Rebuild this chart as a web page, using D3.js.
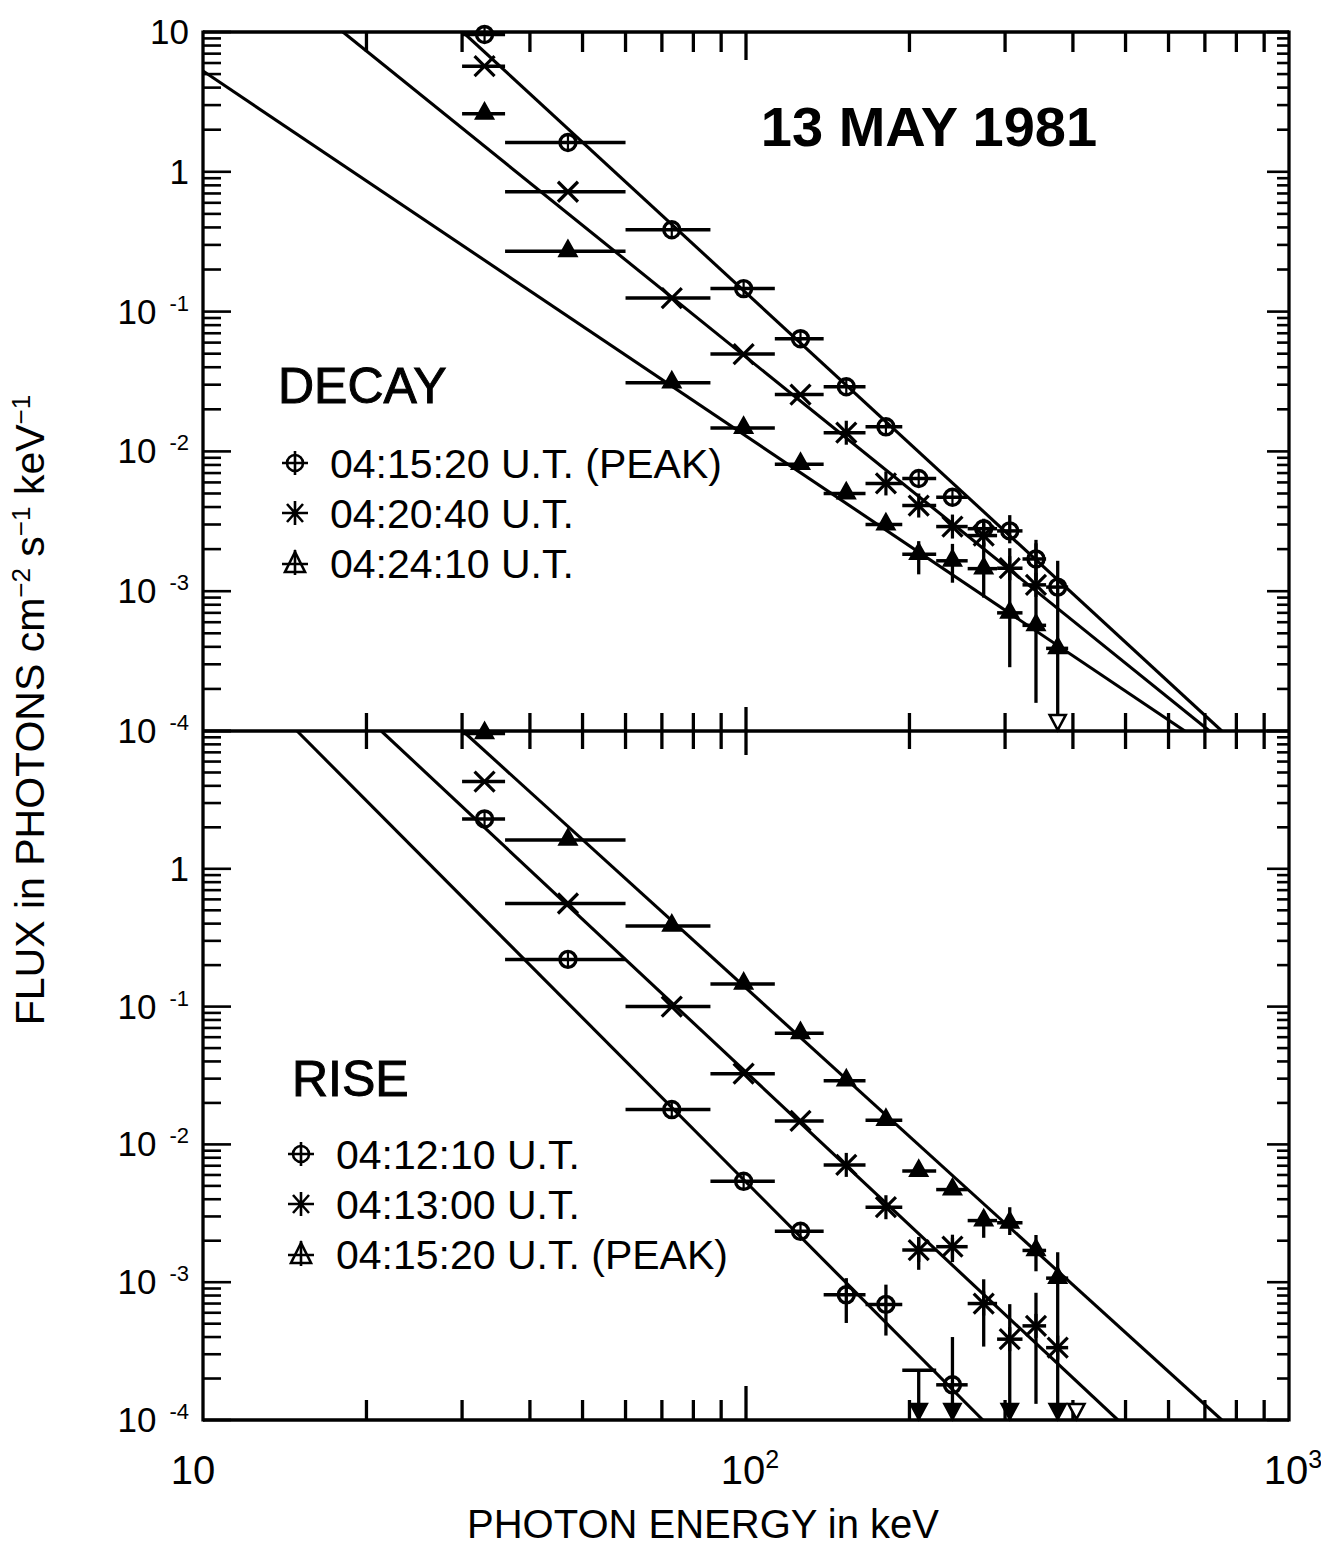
<!DOCTYPE html>
<html><head><meta charset="utf-8">
<script src="https://cdn.jsdelivr.net/npm/d3@7"></script>
<style>
html,body{margin:0;padding:0;background:#fff;}
svg{display:block;}
text{font-family:"Liberation Sans",Arial,Helvetica,sans-serif;fill:#000;}
</style></head><body>
<svg id="chart" width="1321" height="1553"></svg>
<script>
// ---------------- DATA ----------------
// photon energy channels (keV) and their bin edges
const energies = [33, 47, 73, 99, 126, 153, 181, 208, 240, 274, 306, 342, 375];
const binLo    = [30, 36, 60, 86, 113, 139, 166, 194, 224, 256, 290, 323, 357];
const binHi    = [36, 60, 86, 113, 139, 166, 194, 224, 256, 290, 323, 357, 392];

// 04:15:20 U.T. (PEAK) — shown in both panels
const fluxPeak  = [9.6, 1.62, 0.385, 0.146, 0.064, 0.029, 0.015, 0.0064, 0.0047, 0.0028, 0.0027, 0.0017, 0.00107];
const errHiPeak = [null, null, null, null, null, null, null, null, null, 0.0033, 0.0035, 0.0022, 0.00165];
const errLoPeak = [null, null, null, null, null, null, null, null, null, 0.0021, 0.0022, 0.0012, "axis"];

// DECAY 04:20:40 U.T.
const flux2040  = [5.7, 0.72, 0.125, 0.0497, 0.0255, 0.0136, 0.0059, 0.0041, 0.0029, 0.0025, 0.00146, 0.00111];
const errHi2040 = [null, null, null, null, null, null, null, null, null, null, 0.00203, 0.00233];
const errLo2040 = [null, null, null, null, null, null, null, null, null, null, 0.000286, 0.000159];

// DECAY 04:24:10 U.T.
const flux2410  = [2.6, 0.27, 0.031, 0.0147, 0.0081, 0.005, 0.003, 0.00184, 0.00165, 0.00145, 0.0007, 0.00057, 0.00039];
const errHi2410 = [null, null, null, null, null, null, null, 0.00228, 0.00218, 0.00223, null, null, null];
const errLo2410 = [null, null, null, null, null, null, null, 0.00132, 0.00115, 0.0009, null, null, null];

// RISE 04:12:10 U.T.
const flux1210   = [2.3, 0.22, 0.0179, 0.0054, 0.00234, 0.00081, 0.00069, 0.00023, 0.00018];
const errHi1210  = [null, null, null, null, null, 0.00107, 0.00096, null, 0.0004];
const errLo1210  = [null, null, null, null, null, 0.000506, 0.00041, "axis", "axis"];
const limit1210  = [false, false, false, false, false, false, false, true, false];

// RISE 04:13:00 U.T.
const flux1300  = [4.3, 0.56, 0.10, 0.0326, 0.0148, 0.0071, 0.0035, 0.00171, 0.00181, 0.0007, 0.000386, 0.000482, 0.000335];
const errHi1300 = [null, null, null, null, null, null, null, 0.00213, 0.0021, 0.00105, 0.000693, 0.000838, null];
const errLo1300 = [null, null, null, null, null, null, null, 0.00123, 0.0014, 0.000341, "axis", 0.000131, null];

// extra open upper-limit marker in the RISE panel (keV)
const openLimitsRise = [406];

// power-law fit lines: two end points [keV, flux]
const fitPeak   = [[30.1, 10], [752, 1e-4]];
const fit2040   = [[18.1, 10], [714, 1e-4]];
const fit2410   = [[10, 5.26], [643, 1e-4]];
const fit1210   = [[14.9, 10], [273, 1e-4]];
const fit1300   = [[21.3, 10], [484, 1e-4]];

// axis tick labels
const xTickLabels = [{v: 10, base: "10", sup: ""}, {v: 100, base: "10", sup: "2"}, {v: 1000, base: "10", sup: "3"}];
const yTickLabelsTop = [10, 1, 1e-1, 1e-2, 1e-3, 1e-4];
const yTickLabelsBot = [1, 1e-1, 1e-2, 1e-3, 1e-4];

const decayLegend = ["04:15:20 U.T. (PEAK)", "04:20:40 U.T.", "04:24:10 U.T."];
const riseLegend  = ["04:12:10 U.T.", "04:13:00 U.T.", "04:15:20 U.T. (PEAK)"];

// ---------------- LAYOUT ----------------
const X0 = 203, X1 = 1289, Y0 = 32, YM = 731, Y1 = 1420;
const svg = d3.select("#chart");
const x = d3.scaleLog().domain([10, 1000]).range([X0, X1]);
const yTop = d3.scaleLog().domain([1e-4, 10]).range([YM, Y0]);
const yBot = d3.scaleLog().domain([1e-4, 10]).range([Y1, YM]);

const defs = svg.append("defs");
defs.append("clipPath").attr("id", "clipTop").append("rect")
  .attr("x", X0).attr("y", Y0).attr("width", X1 - X0).attr("height", YM - Y0);
defs.append("clipPath").attr("id", "clipBot").append("rect")
  .attr("x", X0).attr("y", YM).attr("width", X1 - X0).attr("height", Y1 - YM);

const SW = 3.3;
const g = svg.append("g").attr("stroke-linecap", "butt");

function seg(x1, y1, x2, y2, w) {
  g.append("line").attr("x1", x1).attr("y1", y1).attr("x2", x2).attr("y2", y2)
    .attr("stroke", "#000").attr("stroke-width", w || SW);
}

// frame
seg(X0, Y0, X1, Y0); seg(X0, YM, X1, YM); seg(X0, Y1, X1, Y1);
seg(X0, Y0 - 1.5, X0, Y1 + 1.5); seg(X1, Y0 - 1.5, X1, Y1 + 1.5);

// x ticks
const xt = x.ticks().filter(t => t > 10 && t < 1000);
const isMajor = t => Math.abs(Math.log10(t) - Math.round(Math.log10(t))) < 1e-9;
xt.forEach(t => {
  const px = x(t), maj = isMajor(t);
  seg(px, Y0, px, Y0 + (maj ? 28 : 20));
  seg(px, YM - (maj ? 24 : 18), px, YM + (maj ? 24 : 18));
  seg(px, Y1, px, Y1 - (maj ? 34 : 20));
});

// y ticks (both panels)
[yTop, yBot].forEach(ys => {
  ys.ticks().forEach(t => {
    const py = ys(t), maj = isMajor(t);
    seg(X0, py, X0 + (maj ? 28 : 18), py, 2.6);
    seg(X1, py, X1 - (maj ? 22 : 12), py, 2.6);
  });
});

// y tick labels
function yLabel(py, v) {
  const e = Math.round(Math.log10(v));
  const t = svg.append("text").attr("x", 189).attr("y", py + 12)
    .attr("text-anchor", "end").style("font-size", "35px");
  if (e === 1) t.text("10");
  else if (e === 0) t.text("1");
  else {
    t.append("tspan").text("10");
    t.append("tspan").attr("dx", 13).attr("dy", -13).style("font-size", "22px").text("-" + (-e));
  }
}
yTickLabelsTop.forEach(v => yLabel(yTop(v), v));
yTickLabelsBot.forEach(v => yLabel(yBot(v), v));

// x tick labels
xTickLabels.forEach((d, i) => {
  const t = svg.append("text").attr("x", x(d.v) + (i === 0 ? -10 : 4)).attr("y", 1484)
    .attr("text-anchor", "middle").style("font-size", "40px");
  t.append("tspan").text(d.base);
  if (d.sup) t.append("tspan").attr("dy", -16).style("font-size", "25px").text(d.sup);
});

// axis titles
svg.append("text").attr("x", 703).attr("y", 1538).attr("text-anchor", "middle")
  .style("font-size", "40px").text("PHOTON ENERGY in keV");
const yt = svg.append("text").attr("transform", "translate(44,710) rotate(-90)")
  .attr("text-anchor", "middle").style("font-size", "41px");
yt.append("tspan").text("FLUX in PHOTONS cm");
yt.append("tspan").attr("dy", -14).style("font-size", "26px").text("\u22122");
yt.append("tspan").attr("dy", 14).text(" s");
yt.append("tspan").attr("dy", -14).style("font-size", "26px").text("\u22121");
yt.append("tspan").attr("dy", 14).text(" keV");
yt.append("tspan").attr("dy", -14).style("font-size", "26px").text("\u22121");

// titles
svg.append("text").attr("x", 929).attr("y", 146).attr("text-anchor", "middle")
  .style("font-size", "56px").style("font-weight", "bold").text("13 MAY 1981");
svg.append("text").attr("x", 278).attr("y", 403).style("font-size", "50px")
  .attr("stroke", "#000").attr("stroke-width", 1).text("DECAY");
svg.append("text").attr("x", 292).attr("y", 1096).style("font-size", "50px")
  .attr("stroke", "#000").attr("stroke-width", 1).text("RISE");

// ---------------- MARKERS ----------------
function marker(sel, type, cx, cy, E) {
  if (type === "circle") {
    sel.append("circle").attr("cx", cx).attr("cy", cy).attr("r", 8)
      .attr("fill", "none").attr("stroke", "#000").attr("stroke-width", 3.4);
    sel.append("line").attr("x1", cx).attr("x2", cx).attr("y1", cy - 8).attr("y2", cy + 8)
      .attr("stroke", "#000").attr("stroke-width", 2.2);
  } else if (type === "triangle") {
    sel.append("path").attr("d", `M${cx},${cy - 11}L${cx - 9},${cy + 5}L${cx + 9},${cy + 5}Z`)
      .attr("fill", "#000").attr("stroke", "#000").attr("stroke-width", 1.8);
  } else if (type === "asterisk") {
    const s = 10;
    sel.append("path").attr("d", `M${cx - s},${cy - s}L${cx + s},${cy + s}M${cx + s},${cy - s}L${cx - s},${cy + s}`)
      .attr("stroke", "#000").attr("stroke-width", 3.2).attr("fill", "none");
    if (E >= 150) sel.append("line").attr("x1", cx).attr("x2", cx).attr("y1", cy - 12).attr("y2", cy + 12)
      .attr("stroke", "#000").attr("stroke-width", 3.2);
  }
}
function arrowHead(sel, cx, yAxis, open) {
  sel.append("path").attr("d", `M${cx - 8},${yAxis - 16}L${cx + 8},${yAxis - 16}L${cx},${yAxis - 1}Z`)
    .attr("fill", open ? "#fff" : "#000").attr("stroke", "#000").attr("stroke-width", 2.6);
}

function drawSeries(ys, yAxis, flux, hi, lo, type, limits, openArrow) {
  const sg = svg.append("g");
  flux.forEach((f, i) => {
    const cx = x(energies[i]), cy = ys(f);
    // horizontal energy bar
    sg.append("line").attr("x1", x(binLo[i])).attr("x2", x(binHi[i])).attr("y1", cy).attr("y2", cy)
      .attr("stroke", "#000").attr("stroke-width", 3.5);
    // vertical bar
    const top = hi[i] != null ? ys(hi[i]) : cy;
    let bot = cy;
    if (lo[i] === "axis") bot = yAxis;
    else if (lo[i] != null) bot = ys(lo[i]);
    if (top !== bot) sg.append("line").attr("x1", cx).attr("x2", cx).attr("y1", top).attr("y2", bot)
      .attr("stroke", "#000").attr("stroke-width", 3.3);
    if (lo[i] === "axis") arrowHead(sg, cx, yAxis, openArrow);
    if (!(limits && limits[i])) marker(sg, type, cx, cy, energies[i]);
  });
}

function drawFit(ys, clipId, pts) {
  const line = d3.line().x(d => x(d[0])).y(d => ys(d[1]));
  svg.append("path").attr("d", line(pts)).attr("clip-path", `url(#${clipId})`)
    .attr("fill", "none").attr("stroke", "#000").attr("stroke-width", 3.1);
}

// DECAY panel
drawFit(yTop, "clipTop", fitPeak);
drawFit(yTop, "clipTop", fit2040);
drawFit(yTop, "clipTop", fit2410);
drawSeries(yTop, YM, fluxPeak, errHiPeak, errLoPeak, "circle", null, true);
drawSeries(yTop, YM, flux2040, errHi2040, errLo2040, "asterisk", null, true);
drawSeries(yTop, YM, flux2410, errHi2410, errLo2410, "triangle", null, true);

// RISE panel
drawFit(yBot, "clipBot", fitPeak);
drawFit(yBot, "clipBot", fit1300);
drawFit(yBot, "clipBot", fit1210);
drawSeries(yBot, Y1, fluxPeak, errHiPeak, errLoPeak, "triangle", null, false);
drawSeries(yBot, Y1, flux1300, errHi1300, errLo1300, "asterisk", null, false);
drawSeries(yBot, Y1, flux1210, errHi1210, errLo1210, "circle", limit1210, false);
openLimitsRise.forEach(e => arrowHead(svg, x(e), Y1, true));

// ---------------- LEGENDS ----------------
function legendIcon(type, cx, cy) {
  const lg = svg.append("g").attr("stroke", "#000").attr("fill", "none").attr("stroke-width", 2.6);
  if (type === "circle") {
    lg.append("circle").attr("cx", cx).attr("cy", cy).attr("r", 8);
    lg.append("path").attr("d", `M${cx - 13},${cy}H${cx + 13}M${cx},${cy - 12}V${cy + 12}`);
  } else if (type === "asterisk") {
    lg.append("path").attr("d",
      `M${cx - 13},${cy}H${cx + 13}M${cx},${cy - 12}V${cy + 12}M${cx - 8},${cy - 9}L${cx + 8},${cy + 9}M${cx + 8},${cy - 9}L${cx - 8},${cy + 9}`);
  } else {
    lg.append("path").attr("d", `M${cx},${cy - 11}L${cx - 10},${cy + 9}L${cx + 10},${cy + 9}Z`);
    lg.append("path").attr("d", `M${cx - 13},${cy + 1}H${cx + 13}M${cx},${cy - 13}V${cy + 12}`);
  }
}
const legendTypes = ["circle", "asterisk", "triangle"];
decayLegend.forEach((s, i) => {
  const cy = 463 + i * 50;
  legendIcon(legendTypes[i], 295, cy);
  svg.append("text").attr("x", 330).attr("y", cy + 15).style("font-size", "41px").text(s);
});
riseLegend.forEach((s, i) => {
  const cy = 1154 + i * 50;
  legendIcon(legendTypes[i], 301, cy);
  svg.append("text").attr("x", 336).attr("y", cy + 15).style("font-size", "41px").text(s);
});
</script>
</body></html>
